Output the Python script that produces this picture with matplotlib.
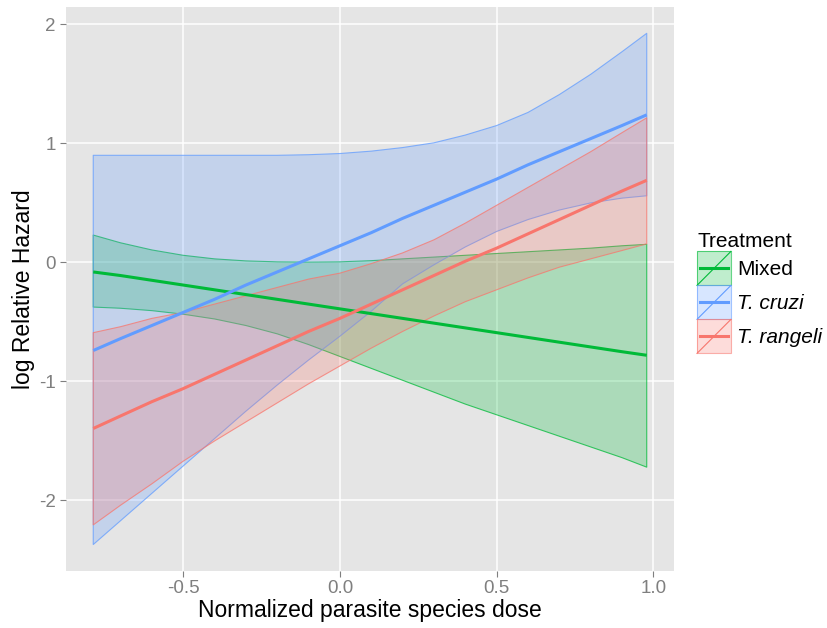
import numpy as np
import matplotlib
matplotlib.use("Agg")
import matplotlib.pyplot as plt
from matplotlib.patches import Rectangle
from matplotlib.lines import Line2D
from matplotlib.legend_handler import HandlerBase

plt.rcParams['font.family'] = ['Liberation Sans', 'DejaVu Sans']
plt.rcParams['axes.unicode_minus'] = False

# dose grid (normalized) and fitted log relative hazard with confidence bands
dose = [-0.787, -0.7, -0.6, -0.5, -0.4, -0.3, -0.2, -0.1, 0.0, 0.1,
        0.2, 0.3, 0.4, 0.5, 0.6, 0.7, 0.8, 0.9, 0.979]

treatments = ['Mixed', 'T. cruzi', 'T. rangeli']
colors = ['#00BA38', '#619CFF', '#F8766D']

mixed_fit = [-0.08, -0.11, -0.15, -0.19, -0.23, -0.27, -0.31, -0.35, -0.39, -0.43,
             -0.47, -0.51, -0.55, -0.59, -0.63, -0.67, -0.71, -0.75, -0.78]
mixed_hi = [0.23, 0.165, 0.105, 0.06, 0.03, 0.013, 0.005, 0.003, 0.005, 0.015,
            0.03, 0.045, 0.06, 0.075, 0.09, 0.105, 0.12, 0.14, 0.152]
mixed_lo = [-0.375, -0.385, -0.405, -0.435, -0.475, -0.53, -0.60, -0.69, -0.79, -0.89,
            -0.99, -1.09, -1.19, -1.28, -1.37, -1.46, -1.55, -1.64, -1.72]

cruzi_fit = [-0.74, -0.64, -0.53, -0.42, -0.31, -0.19, -0.08, 0.03, 0.14, 0.25,
             0.37, 0.48, 0.59, 0.70, 0.82, 0.93, 1.04, 1.15, 1.24]
cruzi_hi = [0.90, 0.90, 0.90, 0.90, 0.90, 0.90, 0.90, 0.905, 0.915, 0.935,
            0.965, 1.005, 1.07, 1.15, 1.26, 1.41, 1.58, 1.77, 1.925]
cruzi_lo = [-2.37, -2.17, -1.94, -1.71, -1.48, -1.25, -1.03, -0.82, -0.62, -0.41,
            -0.18, -0.02, 0.13, 0.26, 0.36, 0.44, 0.50, 0.54, 0.56]

rangeli_fit = [-1.395, -1.29, -1.17, -1.06, -0.94, -0.82, -0.70, -0.58, -0.47, -0.35,
               -0.23, -0.11, 0.01, 0.12, 0.24, 0.36, 0.48, 0.60, 0.69]
rangeli_hi = [-0.59, -0.54, -0.47, -0.42, -0.35, -0.28, -0.21, -0.14, -0.09, -0.01,
              0.08, 0.19, 0.33, 0.48, 0.63, 0.78, 0.93, 1.09, 1.215]
rangeli_lo = [-2.205, -2.04, -1.86, -1.67, -1.50, -1.34, -1.18, -1.02, -0.87, -0.72,
              -0.58, -0.45, -0.33, -0.23, -0.13, -0.04, 0.03, 0.10, 0.156]

fits = [mixed_fit, cruzi_fit, rangeli_fit]
his = [mixed_hi, cruzi_hi, rangeli_hi]
los = [mixed_lo, cruzi_lo, rangeli_lo]

x_ticks = [-0.5, 0.0, 0.5, 1.0]
x_labels = ['-0.5', '0.0', '0.5', '1.0']
y_ticks = [-2, -1, 0, 1, 2]
y_labels = ['-2', '-1', '0', '1', '2']


class RibbonKey(HandlerBase):
    """Legend key: shaded box, diagonal outline and the fit line."""

    def __init__(self, color):
        super().__init__()
        self.color = color

    def create_artists(self, legend, orig_handle, xdescent, ydescent,
                       width, height, fontsize, trans):
        x0, y0 = -xdescent, -ydescent
        box = Rectangle((x0, y0), width, height, facecolor=self.color,
                        alpha=0.25, edgecolor='none', transform=trans)
        edge = Rectangle((x0, y0), width, height, facecolor='none',
                         edgecolor=self.color, alpha=0.6, lw=0.8,
                         transform=trans)
        diag = Line2D([x0, x0 + width], [y0, y0 + height],
                      color=self.color, lw=0.8, transform=trans)
        mid = Line2D([x0 + 2, x0 + width - 2], [y0 + height / 2] * 2,
                     color=self.color, lw=2.2, transform=trans)
        return [box, edge, diag, mid]


fig = plt.figure(figsize=(8.28, 6.28), dpi=100)
ax = fig.add_axes([0.0793, 0.0912, 0.7351, 0.8971])
ax.set_facecolor('#E5E5E5')

x = np.array(dose)
for col, lo, hi in zip(colors, los, his):
    ax.fill_between(x, lo, hi, facecolor=col, alpha=0.25, edgecolor='none',
                    zorder=2)
    ax.fill_between(x, lo, hi, facecolor='none', edgecolor=col, alpha=0.75,
                    lw=0.8, zorder=2)

handles = []
for col, fit, name in zip(colors, fits, treatments):
    ln, = ax.plot(x, fit, color=col, lw=2.2, zorder=3, solid_capstyle='butt')
    handles.append(ln)

ax.set_xlim(-0.875, 1.067)
ax.set_ylim(-2.59, 2.143)
ax.set_xticks(x_ticks)
ax.set_xticklabels(x_labels)
ax.set_yticks(y_ticks)
ax.set_yticklabels(y_labels)
ax.grid(color='white', lw=1.1, zorder=1)
ax.set_axisbelow(True)
for s in ax.spines.values():
    s.set_visible(False)
ax.tick_params(length=4, width=0.8, color='#7F7F7F', labelcolor='#7F7F7F',
               labelsize=13.5, pad=3)

ax.set_xlabel('Normalized parasite species dose', fontsize=16.5, labelpad=1)
ax.set_ylabel('log Relative Hazard', fontsize=16.5, labelpad=3)

leg = fig.legend(handles, treatments, loc='upper left',
                 bbox_to_anchor=(0.8418, 0.630), frameon=False, fontsize=15,
                 title='Treatment', title_fontsize=15, alignment='left',
                 handlelength=1.63, handleheight=2.134, labelspacing=0.0,
                 handletextpad=0.3, borderpad=0, borderaxespad=0,
                 handler_map={h: RibbonKey(c) for h, c in zip(handles, colors)})
for t in leg.get_texts()[1:]:
    t.set_fontstyle('italic')

fig.savefig('out.png', dpi=100, facecolor='white')
